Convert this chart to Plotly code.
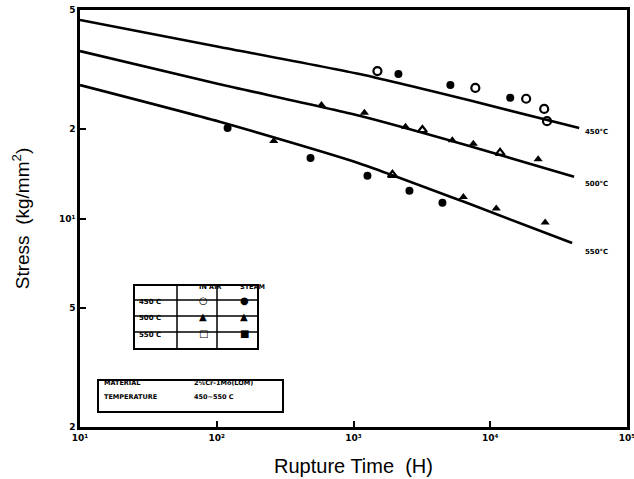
import plotly.graph_objects as go

# ---- data ----
line_t = [10, 105, 1107, 7030, 44700]
line_450 = [46.3, 37.6, 30.5, 24.9, 20.1]
line_500_t = [10, 105, 1107, 7030, 41000]
line_500 = [36.4, 28.2, 22.1, 17.5, 13.8]
line_550_t = [10, 105, 1107, 7030, 39700]
line_550 = [28.0, 21.1, 15.3, 11.2, 8.28]

t450_air = [1496, 7780, 18300, 24800, 26000]
s450_air = [31.2, 27.4, 25.2, 23.3, 21.2]
t450_steam = [2130, 5110, 14000]
s450_steam = [30.5, 28.0, 25.4]

t500_steam = [583, 1202, 2400, 5280, 7520, 22400]
s500_steam = [24.0, 22.6, 20.3, 18.3, 17.8, 15.8]
t500_air = [3190, 11800]
s500_air = [19.8, 16.6]

t550_steam = [120, 485, 1265, 2565, 4470]
s550_steam = [20.1, 15.95, 13.9, 12.4, 11.3]
t550_tri = [261, 6360, 11070, 25200]
s550_tri = [18.2, 11.8, 10.8, 9.7]
t550_open = [1927]
s550_open = [14.0]

curve_labels = ["450°C", "500°C", "550°C"]
x_tickvals = [10, 100, 1000, 10000, 100000]
x_ticktext = ["10¹", "10²", "10³", "10⁴", "10⁵"]
y_tickvals = [2, 5, 10, 20, 50]
y_ticktext = ["2", "5", "10¹", "2", "5"]

table_rows = ["450 C", "500 C", "550 C"]
table_cols = ["IN AIR", "STEAM"]
table_air = ["○", "▲", "□"]
table_steam = ["●", "▲", "■"]

W, H = 634, 479
L, R, T, B = 80, 627, 10, 427   # plot area in window pixels

def px(x):
    return (x - L) / (R - L)

def py(y):
    return (B - y) / (B - T)

fig = go.Figure()
lw = 2.6
for tt, ss in [(line_t, line_450), (line_500_t, line_500), (line_550_t, line_550)]:
    fig.add_trace(go.Scatter(x=tt, y=ss, mode="lines", line=dict(color="black", width=lw, shape="spline", smoothing=0.6),
                             hoverinfo="skip"))

def pts(x, y, sym, size=8, lwid=2):
    fig.add_trace(go.Scatter(x=x, y=y, mode="markers",
                             marker=dict(symbol=sym, size=size, color="black",
                                         line=dict(color="black", width=lwid))))

pts(t450_air, s450_air, "circle-open", 8, 2.2)
pts(t450_steam, s450_steam, "circle", 8, 0)
pts(t500_steam, s500_steam, "triangle-up", 8, 0)
pts(t500_air, s500_air, "triangle-up-open", 8, 2.2)
pts(t550_steam, s550_steam, "circle", 8, 0)
pts(t550_tri, s550_tri, "triangle-up", 8, 0)
pts(t550_open, s550_open, "triangle-up-open", 8, 2.2)

tickfont = dict(family="DejaVu Sans", size=9, color="black")
fig.update_xaxes(type="log", range=[1, 5], tickvals=x_tickvals, ticktext=["<b>%s</b>" % s for s in x_ticktext],
                 tickfont=tickfont, showgrid=False, zeroline=False, showline=True, linecolor="black",
                 linewidth=2.5, mirror=True, ticks="inside", ticklen=6, tickwidth=1.5, tickcolor="black",
                 automargin=False, ticklabeloverflow="allow",
                 title=dict(text="Rupture Time  (H)", font=dict(family="Liberation Sans", size=20, color="black"),
                            standoff=18))
fig.update_yaxes(type="log", range=[0.30103, 1.69897], tickvals=y_tickvals,
                 ticktext=["<b>%s</b>" % s for s in y_ticktext],
                 tickfont=tickfont, showgrid=False, zeroline=False, showline=True, linecolor="black",
                 linewidth=2.5, mirror=True, ticks="inside", ticklen=6, tickwidth=1.5, tickcolor="black",
                 automargin=False, ticklabeloverflow="allow",
                 title=dict(text="Stress  (kg/mm<sup>2</sup>)", font=dict(family="Liberation Sans", size=19, color="black"),
                            standoff=25))

shapes = []
annots = []
small = dict(family="DejaVu Sans", size=7, color="black")

# curve labels
for lab, yy in zip(curve_labels, [132, 184, 252]):
    annots.append(dict(x=px(583), y=py(yy), xref="paper", yref="paper", text="<b>%s</b>" % lab,
                       showarrow=False, xanchor="left", yanchor="middle", font=small))

# legend table
tx0, tx1 = 134, 258
cx = [134, 177, 217, 258]
ry = [285, 300, 316, 332, 349]
shapes.append(dict(type="rect", xref="paper", yref="paper", x0=px(tx0), x1=px(tx1), y0=py(ry[0]), y1=py(ry[-1]),
                   line=dict(color="black", width=2)))
for c in cx[1:-1]:
    shapes.append(dict(type="line", xref="paper", yref="paper", x0=px(c), x1=px(c), y0=py(ry[0]), y1=py(ry[-1]),
                       line=dict(color="black", width=1.5)))
for r in ry[1:-1]:
    shapes.append(dict(type="line", xref="paper", yref="paper", x0=px(tx0), x1=px(tx1), y0=py(r), y1=py(r),
                       line=dict(color="black", width=1.5)))
for j, col in enumerate(table_cols):
    annots.append(dict(x=px((cx[j + 1] + cx[j + 2]) / 2), y=py((ry[0] + ry[1]) / 2), xref="paper", yref="paper",
                       text="<b>%s</b>" % col, showarrow=False, font=dict(family="DejaVu Sans", size=6.5, color="black")))
for i, row in enumerate(table_rows):
    yc = py((ry[i + 1] + ry[i + 2]) / 2)
    annots.append(dict(x=px(cx[0] + 3), y=yc, xref="paper", yref="paper", text="<b>%s</b>" % row,
                       showarrow=False, xanchor="left", font=small))
    annots.append(dict(x=px((cx[1] + cx[2]) / 2), y=yc, xref="paper", yref="paper", text="<b>%s</b>" % table_air[i],
                       showarrow=False, font=dict(family="DejaVu Sans", size=10, color="black")))
    annots.append(dict(x=px((cx[2] + cx[3]) / 2), y=yc, xref="paper", yref="paper", text="<b>%s</b>" % table_steam[i],
                       showarrow=False, font=dict(family="DejaVu Sans", size=10, color="black")))

# material box
shapes.append(dict(type="rect", xref="paper", yref="paper", x0=px(98), x1=px(283), y0=py(380), y1=py(412),
                   line=dict(color="black", width=2)))
for lab, val, yy in [("MATERIAL", "2¼Cr-1Mo(LOM)", 389), ("TEMPERATURE", "450~550 C", 403)]:
    annots.append(dict(x=px(102), y=py(yy), xref="paper", yref="paper", text="<b>%s</b>" % lab, showarrow=False,
                       xanchor="left", font=dict(family="DejaVu Sans", size=6.5, color="black")))
    annots.append(dict(x=px(192), y=py(yy), xref="paper", yref="paper", text="<b>%s</b>" % val, showarrow=False,
                       xanchor="left", font=dict(family="DejaVu Sans", size=6.5, color="black")))

fig.update_layout(width=W, height=H,
                  margin=dict(l=L, r=W - R, t=T, b=H - B),
                  paper_bgcolor="white", plot_bgcolor="white", showlegend=False,
                  shapes=shapes, annotations=annots)

fig.write_html("out.html", config={"displayModeBar": False},
               post_script="document.body.style.margin='0';document.body.style.padding='0';")
